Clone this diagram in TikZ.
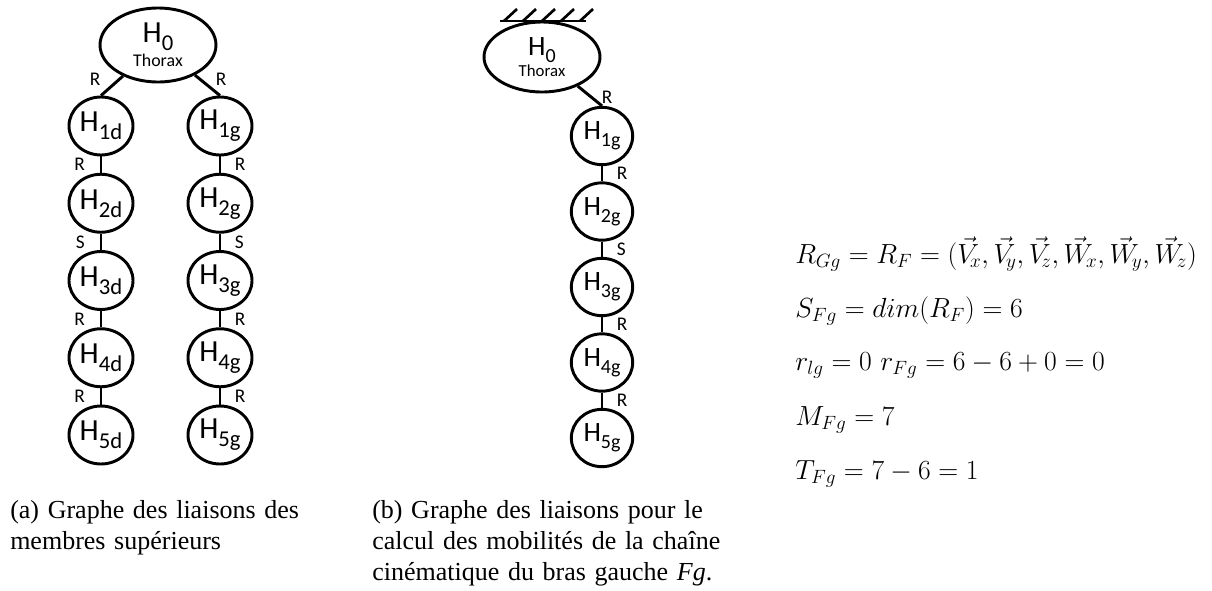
\documentclass[tikz,border=0pt]{standalone}
\usepackage{fontspec}
\newfontfamily\carlito{Carlito}
\newfontfamily\capfont{Liberation Serif}
\usetikzlibrary{shapes.geometric}
\newcommand\HA[1]{{\fontsize{23}{23}\selectfont H}\raisebox{-6pt}{\fontsize{17}{17}\selectfont #1}}
\newcommand\HB[1]{{\fontsize{21}{21}\selectfont H}\raisebox{-5.5pt}{\fontsize{15}{15}\selectfont #1}}
\begin{document}
\begin{tikzpicture}[x=0.75pt,y=-0.75pt,
  link/.style={line width=2.2pt},
  bodyA/.style={ellipse,draw,line width=2.2pt,inner sep=0pt,minimum width=48pt,minimum height=43.5pt,font=\carlito},
  bodyB/.style={ellipse,draw,line width=2.2pt,inner sep=0pt,minimum width=46pt,minimum height=43pt,font=\carlito},
  thorax/.style={ellipse,draw,line width=2.2pt,inner sep=0pt,minimum width=87pt,align=center},
  lbl/.style={font=\carlito\fontsize{14.5}{14.5}\selectfont,inner sep=0pt},
  capt/.style={anchor=north west,inner sep=0pt,text width=#1,align=left,font=\capfont\fontsize{19.5}{23.25}\selectfont},
  eq/.style={anchor=base west,inner sep=0pt,font=\fontsize{21}{24}\selectfont}
]
\useasboundingbox (0,0) rectangle (1212,590);
% ---------- graph (a)
\node[thorax,minimum height=55.5pt,font=\carlito\fontsize{13.4}{18}\selectfont] (A0) at (158,45) {\HA{0}\\Thorax};
\foreach \i in {1,...,5}{
  \node[bodyA] (D\i) at (101,{126+77.25*(\i-1)}) {\HA{\i d}};
  \node[bodyA] (G\i) at (220,{126+77.25*(\i-1)}) {\HA{\i g}};
}
\draw[link] (A0) -- (D1.north);
\draw[link] (A0) -- (G1.north);
\node[lbl] (lA1) at (95,79) {R};
\node[lbl] (lA2) at (221,79) {R};
\draw[link] (D1) -- node[lbl,midway,left=11pt] (ld1) {R} (D2);
\draw[link] (D2) -- node[lbl,midway,left=11pt] (ld2) {S} (D3);
\draw[link] (D3) -- node[lbl,midway,left=11pt] (ld3) {R} (D4);
\draw[link] (D4) -- node[lbl,midway,left=11pt] (ld4) {R} (D5);
\draw[link] (G1) -- node[lbl,midway,right=10pt] (lg1) {R} (G2);
\draw[link] (G2) -- node[lbl,midway,right=10pt] (lg2) {S} (G3);
\draw[link] (G3) -- node[lbl,midway,right=10pt] (lg3) {R} (G4);
\draw[link] (G4) -- node[lbl,midway,right=10pt] (lg4) {R} (G5);
% ---------- graph (b)
\node[thorax,minimum height=52.5pt,font=\carlito\fontsize{12.6}{15.5}\selectfont] (B0) at (542,57) {\HB{0}\\Thorax};
\foreach \i in {1,...,5}{
  \node[bodyB] (B\i) at (602,{136+75.5*(\i-1)}) {\HB{\i g}};
}
\draw[link] (B0) -- node[lbl,pos=0.55,right=7pt] (lb0) {R} (B1.north);
\draw[link] (B1) -- node[lbl,midway,right=10pt] (lb1) {R} (B2);
\draw[link] (B2) -- node[lbl,midway,right=10pt] (lb2) {S} (B3);
\draw[link] (B3) -- node[lbl,midway,right=10pt] (lb3) {R} (B4);
\draw[link] (B4) -- node[lbl,midway,right=10pt] (lb4) {R} (B5);
% ground hatching
\draw[line width=2.2pt] (500,21) -- (586,21);
\foreach \x in {504,523,542,561,580}{
  \draw[line width=2pt] (\x,21) -- ++(13,-12);
}
% ---------- captions
\node[capt=225pt] (capA) at (10,500) {\makebox[225pt][s]{(a) Graphe des liaisons des}\\membres supérieurs};
\node[capt=270.75pt] (capB) at (372,500) {\makebox[270.75pt][s]{(b) Graphe des liaisons pour le}\\\makebox[270.75pt][s]{calcul des mobilités de la chaîne}\\cinématique du bras gauche \textit{Fg}.};
% ---------- equations
\node[eq] (e1) at (795,263) {$R_{Gg} = R_F = (\vec{V}_{\!x}, \vec{V}_{\!y}, \vec{V}_{\!z}, \vec{W}_{\!x}, \vec{W}_{\!y}, \vec{W}_{\!z})$};
\node[eq] (e2) at (795,317) {$S_{Fg} = dim(R_F) = 6$};
\node[eq] (e3) at (795,370) {$r_{lg} = 0\ r_{Fg} = 6 - 6 + 0 = 0$};
\node[eq] (e4) at (795,425) {$M_{Fg} = 7$};
\node[eq] (e5) at (795,479) {$T_{Fg} = 7 - 6 = 1$};
\end{tikzpicture}
\end{document}
